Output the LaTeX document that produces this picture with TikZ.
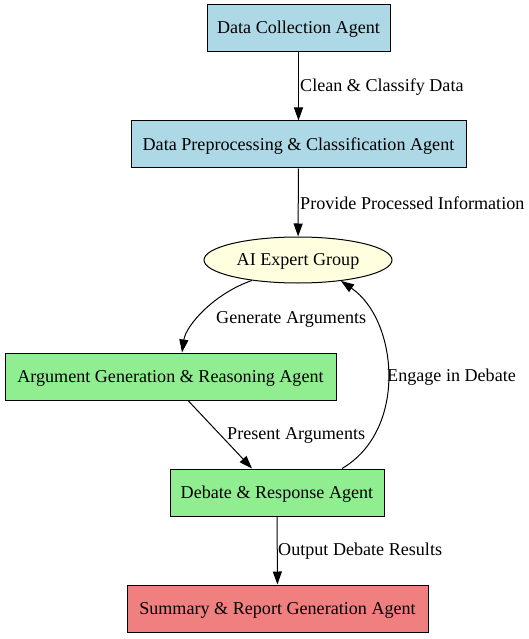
\documentclass[tikz,border=0pt]{standalone}
\usepackage{fontspec}
\setmainfont{Liberation Serif}
\usetikzlibrary{shapes.geometric,arrows.meta}

\definecolor{boxblue}{RGB}{173,216,230}
\definecolor{boxyellow}{RGB}{255,255,224}
\definecolor{boxgreen}{RGB}{144,238,144}
\definecolor{boxred}{RGB}{240,128,128}

\begin{document}
\begin{tikzpicture}[x=1pt,y=-1pt,
	font=\fontsize{18.1}{22}\selectfont,
	agent/.style={draw, line width=1pt, rectangle, minimum height=47pt, inner sep=0pt, text height=12pt, text depth=1pt},
	group/.style={draw, line width=1pt, ellipse, minimum width=188pt, minimum height=46pt, inner sep=0pt, text height=12pt, text depth=1pt},
	flow/.style={line width=1pt, -{Triangle[length=13pt,width=9pt]}},
	lbl/.style={anchor=west, inner sep=0pt}
	]
	% Fix the frame
	\useasboundingbox (0,0) rectangle (529,639);
	
	% Agents
	\node[agent, fill=boxblue, minimum width=183pt] (collect) at (298.5,28.5) {Data Collection Agent};
	\node[agent, fill=boxblue, minimum width=335pt] (prep) at (298.5,144.5) {Data Preprocessing \& Classification Agent};
	\node[group, fill=boxyellow] (expert) at (298,260) {AI Expert Group};
	\node[agent, fill=boxgreen, minimum width=331pt] (argue) at (170.5,376.5) {Argument Generation \& Reasoning Agent};
	\node[agent, fill=boxgreen, minimum width=214pt] (debate) at (277,492.5) {Debate \& Response Agent};
	\node[agent, fill=boxred, minimum width=301pt] (report) at (277.5,608.5) {Summary \& Report Generation Agent};
	
	% Straight edges
	\draw[flow] (collect) -- (prep);
	\draw[flow] (prep) -- (expert);
	\draw[flow] (debate) -- (report);
	\draw[flow] ([xshift=17.5pt]argue.south) -- ([xshift=-25pt]debate.north);
	
	% Curved edges
	\draw[flow] (expert.204) .. controls (215,293) and (186,325) .. ([xshift=11.5pt]argue.north);
	\draw[flow] ([xshift=65pt]debate.north) .. controls (408,430) and (398,320) .. (expert.334);
	
	% Edge labels
	\node[lbl] (l1) at (300,87.5) {Clean \& Classify Data};
	\node[lbl] (l2) at (300,203.5) {Provide Processed Information};
	\node[lbl] (l3) at (216,319.5) {Generate Arguments};
	\node[lbl] (l4) at (227,435.5) {Present Arguments};
	\node[lbl] (l5) at (387,377.5) {Engage in Debate};
	\node[lbl] (l6) at (278,551.5) {Output Debate Results};
\end{tikzpicture}
\end{document}
